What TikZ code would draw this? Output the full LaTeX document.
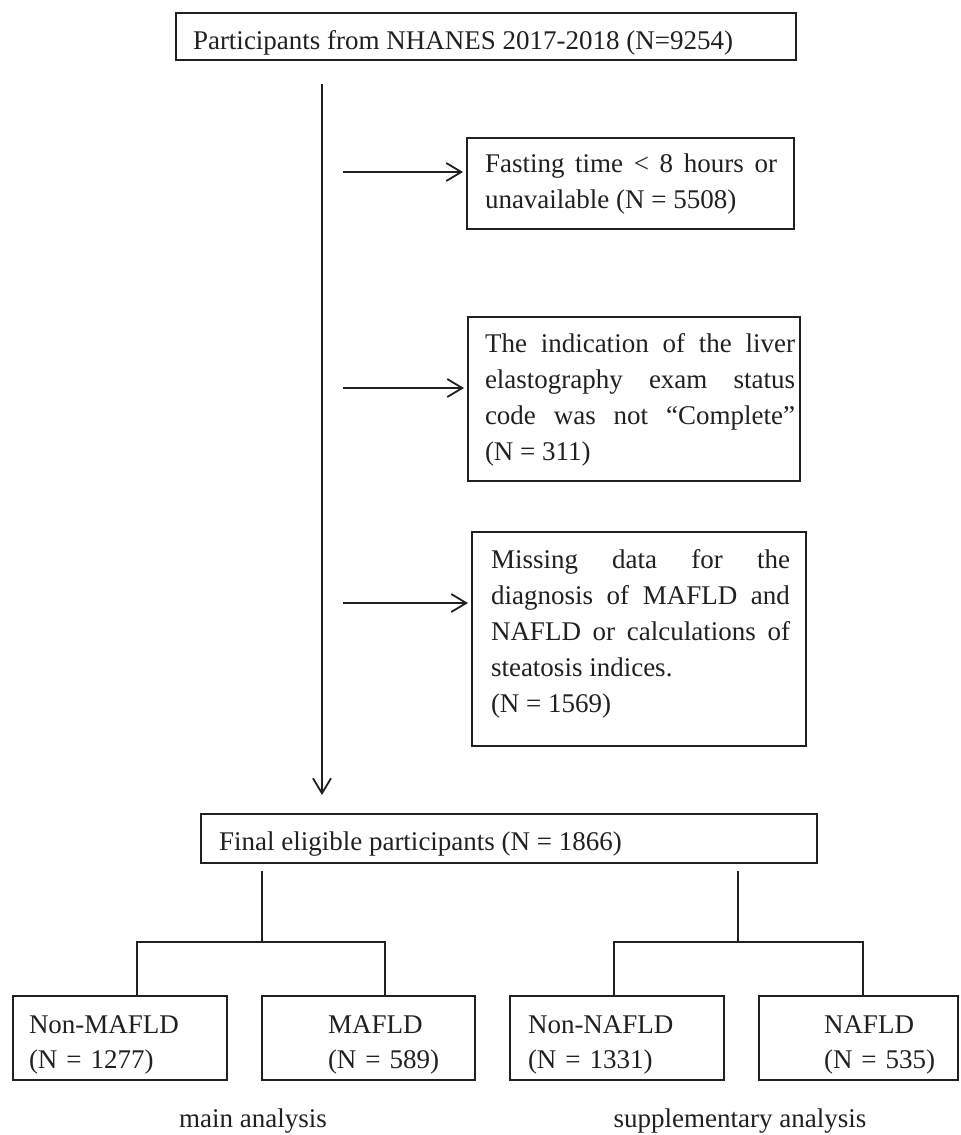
\documentclass[tikz,border=0pt]{standalone}
\usepackage{fontspec}
\setmainfont{Liberation Serif}
\usetikzlibrary{arrows.meta}
\definecolor{ink}{RGB}{35,31,32}
\setlength\parindent{0pt}
\tolerance=10000
\hbadness=10000
\hyphenpenalty=10000
\exhyphenpenalty=10000
\begin{document}
\begin{tikzpicture}[x=1pt,y=-1pt,
  box/.style={draw=ink, line width=1.8pt, inner sep=0pt, outer sep=0pt, anchor=north west},
  txt/.style={inner sep=0pt, outer sep=0pt, text=ink, font=\fontsize{27}{36}\selectfont},
  para/.style={txt, anchor=north west, align=justify},
  leaf/.style={txt, anchor=north west, align=left, text width=190pt, font=\fontsize{27}{35}\selectfont},
  arr/.style={draw=ink, line width=1.8pt, -{Straight Barb[length=15pt,width=18pt]}},
  tree/.style={draw=ink, line width=1.5pt}]
\useasboundingbox (0,0) rectangle (961,1135);

% top box
\node[box, minimum width=620pt, minimum height=47pt] (top) at (176,13) {};
\node[txt, anchor=base west] (topt) at (193,49) {Participants from NHANES 2017-2018 (N=9254)};

% exclusion boxes
\node[box, minimum width=327pt, minimum height=91pt] (b1) at (467,138) {};
\node[para, text width=292pt] (b1t) at (485,150) {\rule{0pt}{22pt}Fasting time < 8 hours or\linebreak unavailable (N = 5508)};

\node[box, minimum width=332pt, minimum height=164pt] (b2) at (468,317) {};
\node[para, text width=310pt] (b2t) at (485,330) {\rule{0pt}{22pt}The indication of the liver\linebreak elastography exam status\linebreak code was not “Complete”\linebreak (N = 311)};

\node[box, minimum width=334pt, minimum height=214pt] (b3) at (472,532) {};
\node[para, text width=299pt] (b3t) at (491,546) {\rule{0pt}{22pt}Missing data for the\linebreak diagnosis of MAFLD and\linebreak NAFLD or calculations of\linebreak steatosis indices.\newline (N = 1569)};

% final box
\node[box, minimum width=616pt, minimum height=49pt] (fin) at (201,814) {};
\node[txt, anchor=base west] (fint) at (219,850) {Final eligible participants (N = 1866)};

% bottom boxes
\node[box, minimum width=214pt, minimum height=84pt] (nm) at (13,996) {};
\node[leaf] (nmt) at (29,1011) {\rule{0pt}{22pt}Non-MAFLD\newline (N = 1277)};
\node[box, minimum width=213pt, minimum height=84pt] (ma) at (262,996) {};
\node[leaf] (mat) at (328,1011) {\rule{0pt}{22pt}MAFLD\newline (N = 589)};
\node[box, minimum width=214pt, minimum height=84pt] (nn) at (510,996) {};
\node[leaf] (nnt) at (528,1011) {\rule{0pt}{22pt}Non-NAFLD\newline (N = 1331)};
\node[box, minimum width=199pt, minimum height=84pt] (na) at (759,996) {};
\node[leaf] (nat) at (824,1011) {\rule{0pt}{22pt}NAFLD\newline (N = 535)};

% labels
\node[txt, anchor=base] (lab1) at (253,1127) {main analysis};
\node[txt, anchor=base] (lab2) at (740,1127) {supplementary analysis};

% main vertical arrow
\coordinate (vx) at (322,0);
\draw[arr, shorten <=24pt, shorten >=19pt] (top.south -| vx) -- (fin.north -| vx);

% side arrows
\coordinate (y1) at (0,172);
\coordinate (y2) at (0,388);
\coordinate (y3) at (0,603);
\draw[arr, shorten <=21pt, shorten >=4pt] (vx |- y1) -- (b1.west |- y1);
\draw[arr, shorten <=21pt, shorten >=4pt] (vx |- y2) -- (b2.west |- y2);
\draw[arr, shorten <=21pt, shorten >=4pt] (vx |- y3) -- (b3.west |- y3);

% tree
\coordinate (jL) at (262,942);
\coordinate (jR) at (738,942);
\coordinate (lL1) at (137,942);
\coordinate (lL2) at (385,942);
\coordinate (lR1) at (614,942);
\coordinate (lR2) at (863,942);
\draw[tree] ([yshift=-8pt]fin.south -| jL) -- (jL);
\draw[tree] ([yshift=-8pt]fin.south -| jR) -- (jR);
\draw[tree] (nm.north -| lL1) -- (lL1) -- (lL2) -- (ma.north -| lL2);
\draw[tree] (nn.north -| lR1) -- (lR1) -- (lR2) -- (na.north -| lR2);
\end{tikzpicture}
\end{document}
